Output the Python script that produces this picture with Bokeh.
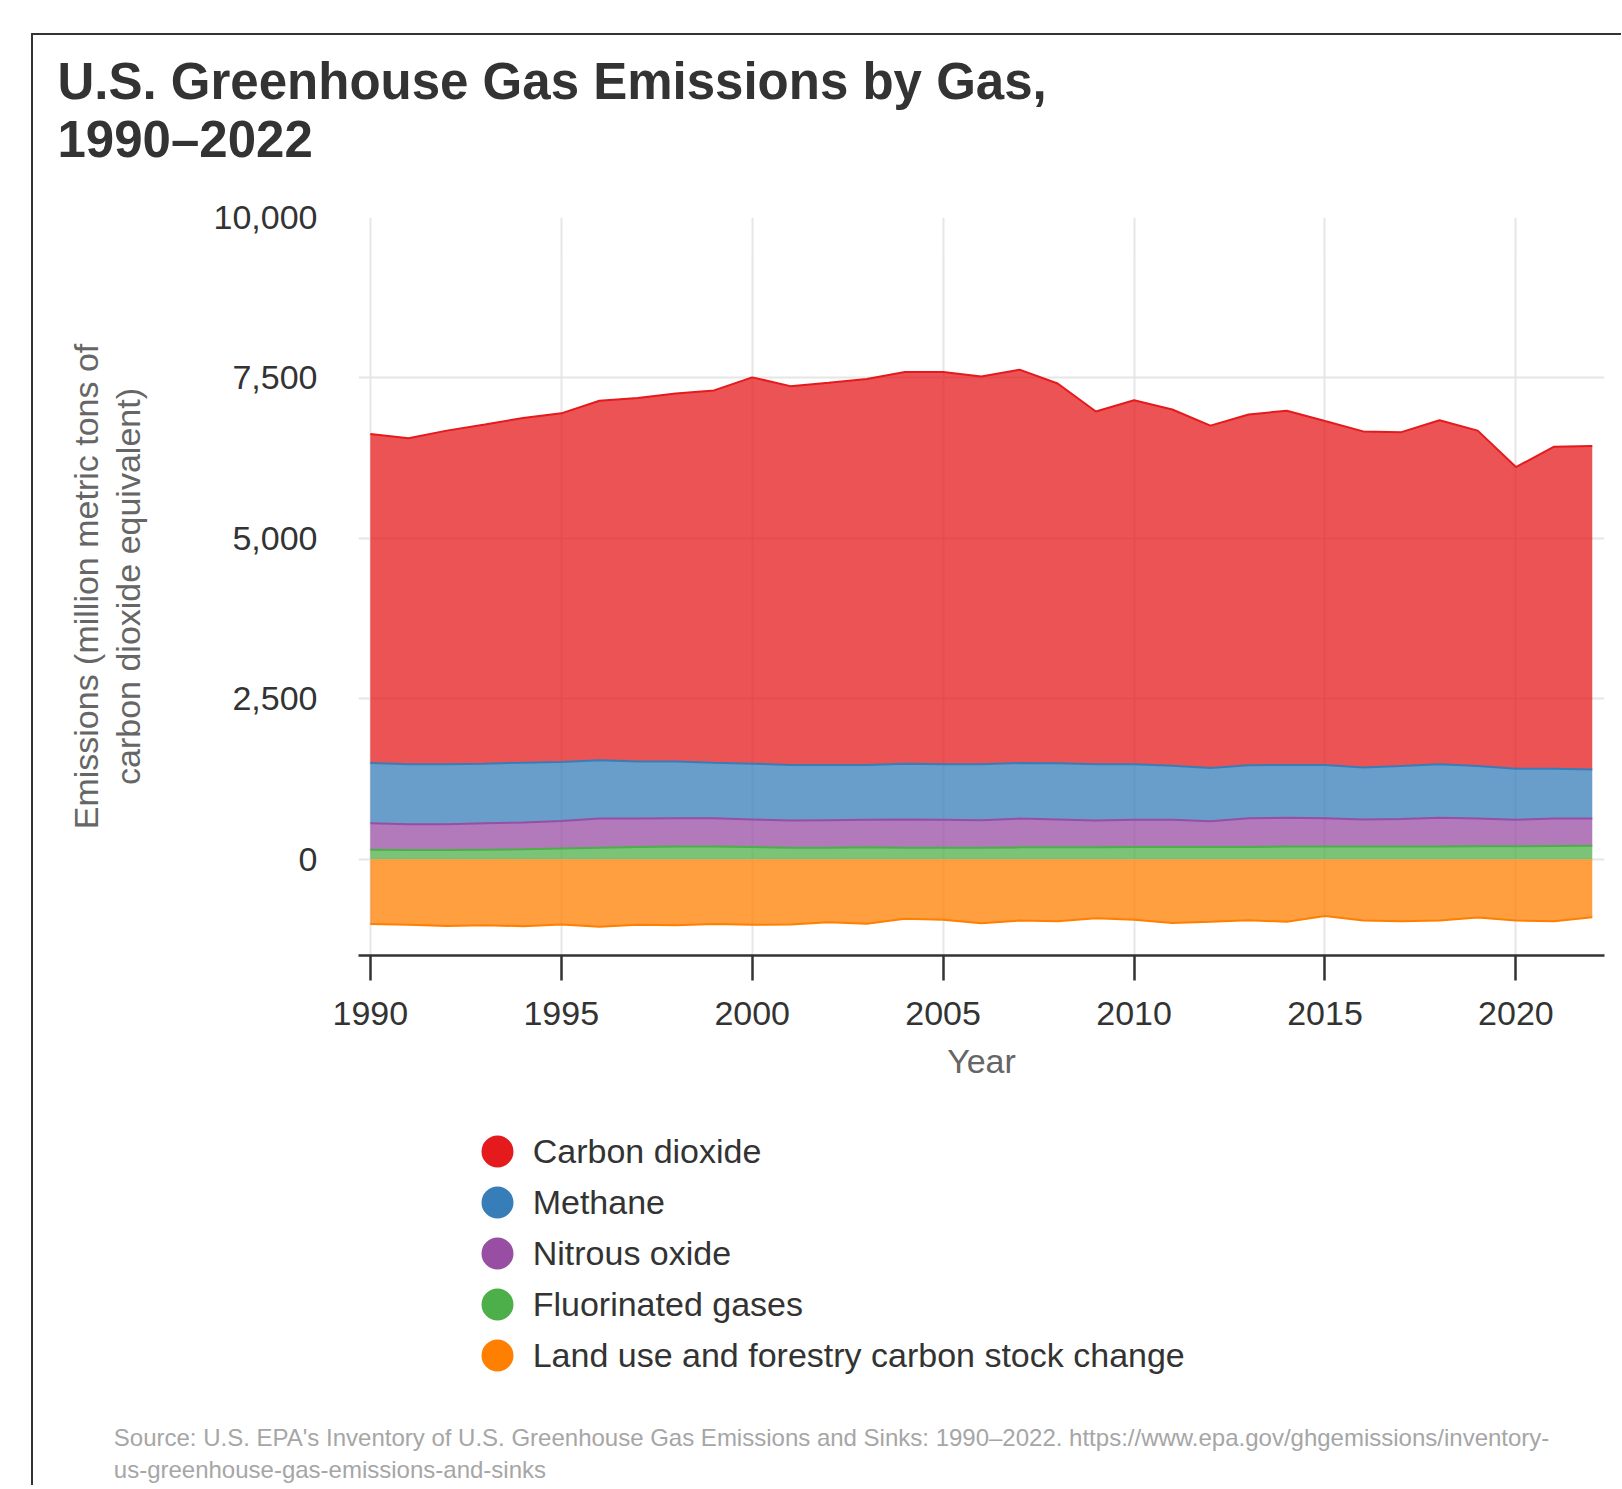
from bokeh.plotting import figure
from bokeh.layouts import column
from bokeh.models import (ColumnDataSource, FixedTicker, NumeralTickFormatter,
                          Label, Legend, LegendItem, Range1d)
from bokeh.embed import file_html
from bokeh.resources import INLINE

# ---------------- data (million metric tons CO2 eq.) ----------------
years = list(range(1990, 2023))
carbon_dioxide = [5126, 5077, 5197, 5286, 5371, 5431, 5604, 5664, 5735, 5801,
                  6021, 5902, 5956, 6015, 6105, 6111, 6039, 6130, 5920, 5496,
                  5669, 5550, 5335, 5466, 5520, 5358, 5239, 5203, 5358, 5227,
                  4701, 5018, 5040]
methane = [937, 938, 938, 926, 931, 920, 908, 890, 884, 866,
           867, 867, 861, 855, 867, 867, 873, 866, 873, 879,
           867, 843, 831, 825, 825, 831, 807, 825, 837, 819,
           795, 777, 767]
nitrous_oxide = [413, 401, 401, 413, 419, 430, 454, 442, 442, 442,
                 430, 424, 430, 430, 442, 436, 430, 448, 436, 418,
                 424, 424, 400, 448, 448, 442, 424, 430, 448, 430,
                 412, 427, 424]
fluorinated_gases = [149, 143, 143, 149, 155, 167, 179, 191, 197, 197,
                     191, 179, 179, 185, 179, 179, 179, 185, 185, 185,
                     191, 191, 191, 191, 197, 197, 197, 197, 197, 203,
                     203, 206, 209]
land_use = [-1010, -1022, -1039, -1028, -1045, -1016, -1051, -1022, -1028, -1010,
            -1022, -1016, -980, -1004, -926, -944, -998, -956, -968, -920,
            -944, -992, -974, -950, -974, -884, -956, -968, -956, -908,
            -956, -968, -905]

series_names = ["Carbon dioxide", "Methane", "Nitrous oxide", "Fluorinated gases",
                "Land use and forestry carbon stock change"]
series_colors = ["#e41a1c", "#377eb8", "#984ea3", "#4daf4a", "#ff7f00"]
y_ticks = [0, 2500, 5000, 7500, 10000]
x_ticks = [1990, 1995, 2000, 2005, 2010, 2015, 2020]

title_lines = ["U.S. Greenhouse Gas Emissions by Gas,", "1990\u20132022"]
source_lines = ["Source: U.S. EPA's Inventory of U.S. Greenhouse Gas Emissions and Sinks: 1990\u20132022. https://www.epa.gov/ghgemissions/inventory-",
                "us-greenhouse-gas-emissions-and-sinks"]
y_label = "Emissions (million metric tons of\ncarbon dioxide equivalent)"
x_label = "Year"

FONT = "Liberation Sans"
W = 1588
H_TOP, H_MAIN, H_BOT = 150, 925, 375


def blank_panel(h):
    """A figure whose frame is the whole canvas; y measured downward in px."""
    f = figure(width=W, height=h, output_backend="svg", toolbar_location=None,
               title=None,
               x_range=Range1d(0, W), y_range=Range1d(h, 0),
               x_axis_location=None, y_axis_location=None, min_border=0,
               frame_align=False)
    f.grid.visible = False
    f.outline_line_color = None
    f.border_fill_color = "white"
    f.background_fill_color = "white"
    return f


# ---------------- title panel ----------------
top = blank_panel(H_TOP)
for txt, ypos in zip(title_lines, [46, 104.3]):
    top.add_layout(Label(x=24, y=ypos, text=txt, text_font=FONT,
                         text_font_size="51px", text_font_style="bold",
                         text_color="#333333", text_align="left",
                         text_baseline="alphabetic"))

# ---------------- main chart ----------------
src = ColumnDataSource(dict(year=years, co2=carbon_dioxide, ch4=methane,
                            n2o=nitrous_oxide, fgas=fluorinated_gases, land=land_use))

FL, FR, FT, FB = 325, 1571, 32, 770
p = figure(width=W, height=H_MAIN, output_backend="svg", toolbar_location=None,
           title=None,
           x_range=Range1d(1989.69, 2022.32), y_range=Range1d(-1500, 10000),
           min_border_left=FL, min_border_right=W - FR,
           min_border_top=FT, min_border_bottom=H_MAIN - FB,
           frame_align=False)
p.outline_line_color = None
p.background_fill_color = "white"
p.border_fill_color = "white"

stack_cols = ["fgas", "n2o", "ch4", "co2"]
stack_colors = [series_colors[3], series_colors[2], series_colors[1], series_colors[0]]
p.varea_stack(stackers=stack_cols, x="year", color=stack_colors, fill_alpha=0.75, source=src)
p.vline_stack(stackers=stack_cols, x="year", color=stack_colors, line_width=2, source=src)
p.varea(x="year", y1=0, y2="land", fill_color=series_colors[4], fill_alpha=0.75, source=src)
p.line(x="year", y="land", line_color=series_colors[4], line_width=2, source=src)

p.xaxis.ticker = FixedTicker(ticks=x_ticks)
p.yaxis.ticker = FixedTicker(ticks=y_ticks)
p.yaxis.formatter = NumeralTickFormatter(format="0,0")
p.xgrid.ticker = FixedTicker(ticks=x_ticks)
p.ygrid.ticker = FixedTicker(ticks=y_ticks)
p.grid.grid_line_color = "#e6e6e6"
p.grid.grid_line_width = 2

for ax in (p.xaxis[0], p.yaxis[0]):
    ax.major_label_text_font = FONT
    ax.major_label_text_font_size = "34px"
    ax.major_label_text_color = "#333333"
    ax.axis_label_text_font = FONT
    ax.axis_label_text_font_size = "34px"
    ax.axis_label_text_font_style = "normal"
    ax.axis_label_text_color = "#666666"
    ax.minor_tick_line_color = None

p.yaxis.axis_line_color = None
p.yaxis.major_tick_line_color = None
p.yaxis.major_tick_out = 0
p.yaxis.major_tick_in = 0
p.yaxis.major_label_standoff = 41
p.yaxis.axis_label = y_label
p.yaxis.axis_label_text_line_height = 1.1
p.yaxis.axis_label_standoff = 64

p.xaxis.axis_line_color = "#333333"
p.xaxis.axis_line_width = 2.5
p.xaxis.major_tick_line_color = "#333333"
p.xaxis.major_tick_line_width = 2.5
p.xaxis.major_tick_out = 25
p.xaxis.major_tick_in = 0
p.xaxis.major_label_standoff = 21
p.xaxis.axis_label = x_label
p.xaxis.axis_label_standoff = 14

# ---------------- legend + source panel ----------------
bot = blank_panel(H_BOT)
items = []
for name, col in zip(series_names, series_colors):
    r = bot.scatter(x=[float("nan")], y=[float("nan")], marker="circle", size=10,
                    fill_color=col, line_color=col, line_width=12.8)
    items.append(LegendItem(label=name, renderers=[r]))
legend = Legend(items=items, location=(439.7, 106), orientation="vertical",
                glyph_width=48, glyph_height=48, spacing=3, padding=0, margin=0,
                label_standoff=12, label_text_font=FONT, label_text_font_size="34px",
                label_text_color="#333333", border_line_color=None,
                background_fill_alpha=0)
bot.add_layout(legend)
for txt, ypos in zip(source_lines, [326.7, 358.9]):
    bot.add_layout(Label(x=80.3, y=ypos, text=txt, text_font=FONT,
                         text_font_size="24px", text_color="#a6a6a6",
                         text_align="left", text_baseline="alphabetic"))

layout = column(top, p, bot, spacing=0, margin=(33, 0, 0, 31),
                styles={"border-top": "2px solid #333333",
                        "border-left": "2px solid #333333"})

open("out.html", "w").write(file_html(layout, INLINE))
